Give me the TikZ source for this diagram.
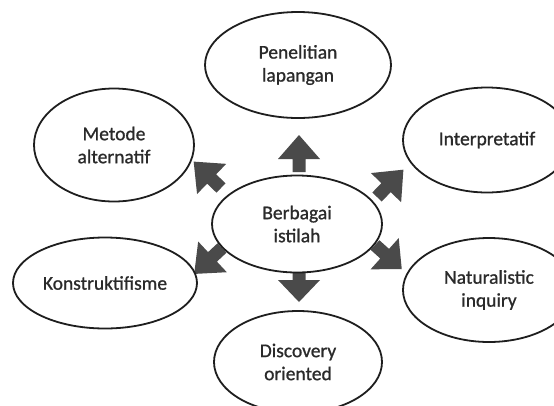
\documentclass[tikz,border=0pt]{standalone}
\usepackage{fontspec}
\setmainfont{Carlito}
\newfontfamily\heavy{Carlito}[FakeBold=0.9]
\usetikzlibrary{shapes.geometric}
\definecolor{inkc}{HTML}{1E1E1E}
\definecolor{txtc}{HTML}{2A2A2A}
\definecolor{arrc}{HTML}{4A4A4A}
\tikzset{
  bubble/.style={ellipse, draw=inkc, line width=1.8pt, fill=white, inner sep=0pt,
    align=center, text=txtc, font=\heavy\fontsize{19.5}{23}\selectfont},
  blockarrow/.style={fill=arrc}
}
\newcommand{\blk}[3]{%
  \fill[blockarrow, shift={#1}, rotate=#2] (0,-6.5) -- (13,-6.5) -- (13,-21) -- (#3,0) -- (13,21) -- (13,6.5) -- (0,6.5) -- cycle;}
\begin{document}
\begin{tikzpicture}[x=1pt,y=-1pt]
\clip (0,0) rectangle (554,405);
\fill[white] (0,0) rectangle (554,405);
\blk{(299,172)}{90}{37}
\blk{(299,267)}{-90}{35}
\blk{(221,188)}{136}{38}
\blk{(377,197)}{46}{38}
\blk{(222,248)}{-137}{38}
\blk{(375,245)}{-42}{36}
\node[bubble, minimum width=186pt, minimum height=106pt] (top) at (298,65) {Penelitian\\lapangan};
\node[bubble, minimum width=160pt, minimum height=113pt] (met) at (114,145) {Metode\\alternatif};
\node[bubble, minimum width=168pt, minimum height=105pt] (int) at (487,140) {Interpretatif};
\node[bubble, minimum width=170pt, minimum height=97pt] (cen) at (297,224) {Berbagai\\istilah};
\node[bubble, minimum width=184pt, minimum height=91pt] (kon) at (105,283) {Konstruktifisme};
\node[bubble, minimum width=172pt, minimum height=104pt] (nat) at (489,290) {Naturalistic\\inquiry};
\node[bubble, minimum width=168pt, minimum height=102pt] (dis) at (298,362) {Discovery\\oriented};
\end{tikzpicture}
\end{document}
